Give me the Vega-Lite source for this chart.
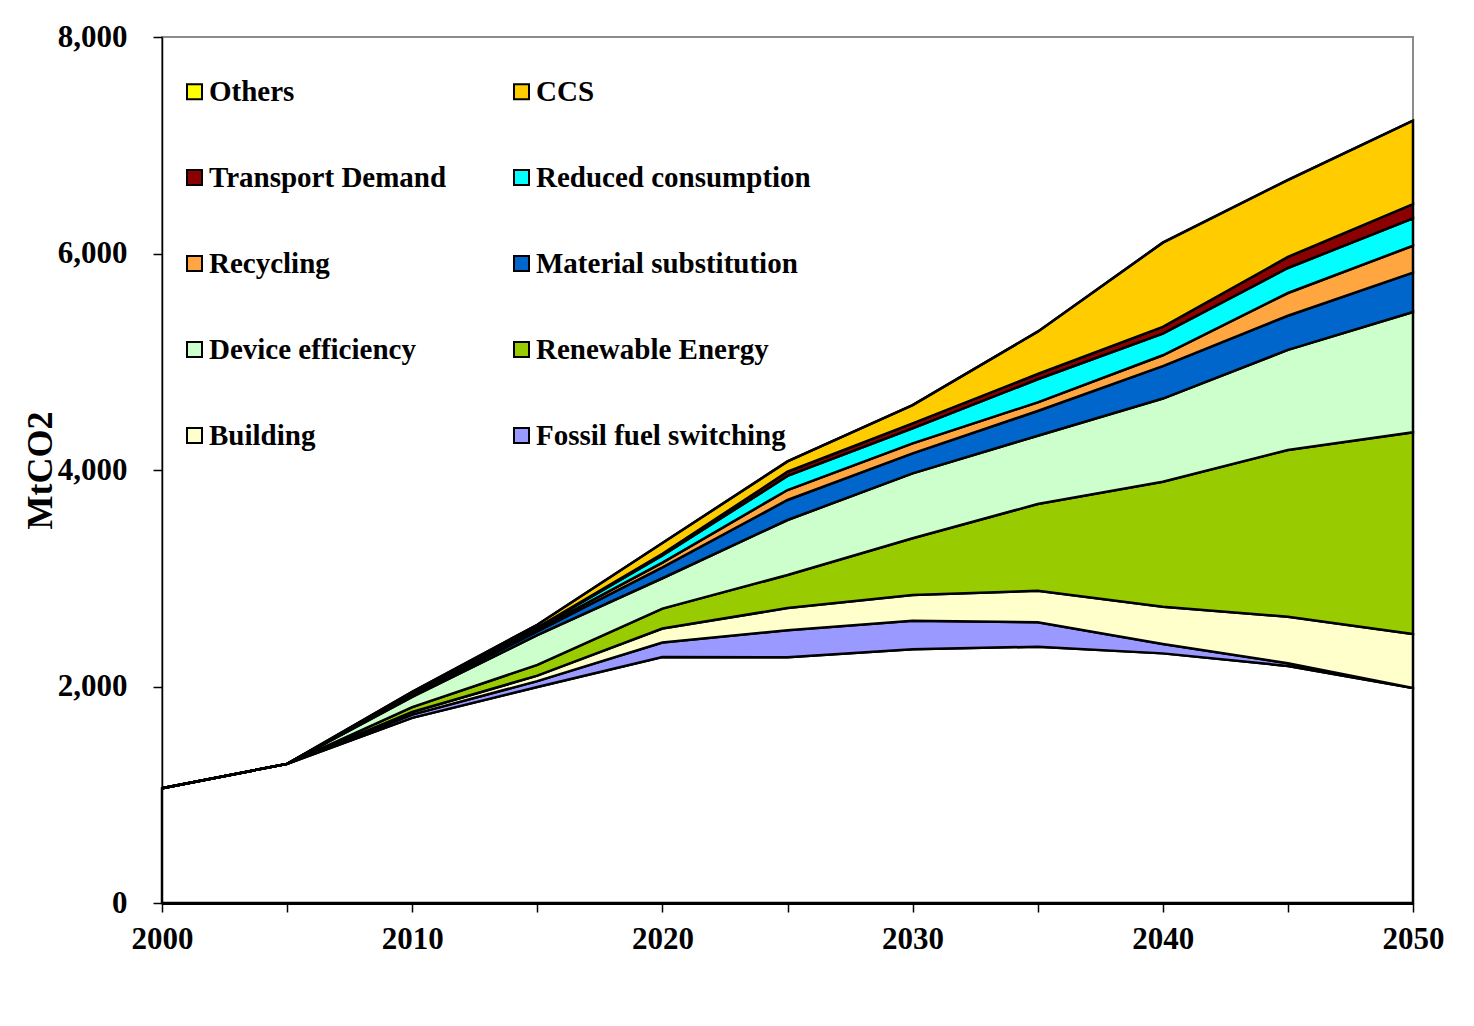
{
  "$schema": "https://vega.github.io/schema/vega-lite/v6.json",
  "width": 1251,
  "height": 866,
  "autosize": {"type": "none"},
  "padding": {"left": 162, "top": 37, "right": 61, "bottom": 123},
  "background": "white",
  "config": {
    "view": {"stroke": "#8c8c8c", "strokeWidth": 2},
    "font": "Liberation Serif"
  },
  "data": {
    "values": [
      {"year": 2000, "series": "Base", "order": 0, "value": 1060},
      {"year": 2000, "series": "Fossil fuel switching", "order": 1, "value": 0},
      {"year": 2000, "series": "Building", "order": 2, "value": 0},
      {"year": 2000, "series": "Renewable Energy", "order": 3, "value": 0},
      {"year": 2000, "series": "Device efficiency", "order": 4, "value": 0},
      {"year": 2000, "series": "Material substitution", "order": 5, "value": 0},
      {"year": 2000, "series": "Recycling", "order": 6, "value": 0},
      {"year": 2000, "series": "Reduced consumption", "order": 7, "value": 0},
      {"year": 2000, "series": "Transport Demand", "order": 8, "value": 0},
      {"year": 2000, "series": "CCS", "order": 9, "value": 0},
      {"year": 2000, "series": "Others", "order": 10, "value": 0},

      {"year": 2005, "series": "Base", "order": 0, "value": 1285},
      {"year": 2005, "series": "Fossil fuel switching", "order": 1, "value": 0},
      {"year": 2005, "series": "Building", "order": 2, "value": 0},
      {"year": 2005, "series": "Renewable Energy", "order": 3, "value": 0},
      {"year": 2005, "series": "Device efficiency", "order": 4, "value": 0},
      {"year": 2005, "series": "Material substitution", "order": 5, "value": 0},
      {"year": 2005, "series": "Recycling", "order": 6, "value": 0},
      {"year": 2005, "series": "Reduced consumption", "order": 7, "value": 0},
      {"year": 2005, "series": "Transport Demand", "order": 8, "value": 0},
      {"year": 2005, "series": "CCS", "order": 9, "value": 0},
      {"year": 2005, "series": "Others", "order": 10, "value": 0},

      {"year": 2010, "series": "Base", "order": 0, "value": 1710},
      {"year": 2010, "series": "Fossil fuel switching", "order": 1, "value": 30},
      {"year": 2010, "series": "Building", "order": 2, "value": 25},
      {"year": 2010, "series": "Renewable Energy", "order": 3, "value": 45},
      {"year": 2010, "series": "Device efficiency", "order": 4, "value": 95},
      {"year": 2010, "series": "Material substitution", "order": 5, "value": 12},
      {"year": 2010, "series": "Recycling", "order": 6, "value": 5},
      {"year": 2010, "series": "Reduced consumption", "order": 7, "value": 6},
      {"year": 2010, "series": "Transport Demand", "order": 8, "value": 2},
      {"year": 2010, "series": "CCS", "order": 9, "value": 20},
      {"year": 2010, "series": "Others", "order": 10, "value": 0},

      {"year": 2015, "series": "Base", "order": 0, "value": 1995},
      {"year": 2015, "series": "Fossil fuel switching", "order": 1, "value": 55},
      {"year": 2015, "series": "Building", "order": 2, "value": 50},
      {"year": 2015, "series": "Renewable Energy", "order": 3, "value": 100},
      {"year": 2015, "series": "Device efficiency", "order": 4, "value": 275},
      {"year": 2015, "series": "Material substitution", "order": 5, "value": 35},
      {"year": 2015, "series": "Recycling", "order": 6, "value": 15},
      {"year": 2015, "series": "Reduced consumption", "order": 7, "value": 15},
      {"year": 2015, "series": "Transport Demand", "order": 8, "value": 5},
      {"year": 2015, "series": "CCS", "order": 9, "value": 25},
      {"year": 2015, "series": "Others", "order": 10, "value": 0},

      {"year": 2020, "series": "Base", "order": 0, "value": 2272},
      {"year": 2020, "series": "Fossil fuel switching", "order": 1, "value": 135},
      {"year": 2020, "series": "Building", "order": 2, "value": 128},
      {"year": 2020, "series": "Renewable Energy", "order": 3, "value": 185},
      {"year": 2020, "series": "Device efficiency", "order": 4, "value": 280},
      {"year": 2020, "series": "Material substitution", "order": 5, "value": 100},
      {"year": 2020, "series": "Recycling", "order": 6, "value": 45},
      {"year": 2020, "series": "Reduced consumption", "order": 7, "value": 65},
      {"year": 2020, "series": "Transport Demand", "order": 8, "value": 15},
      {"year": 2020, "series": "CCS", "order": 9, "value": 100},
      {"year": 2020, "series": "Others", "order": 10, "value": 0},

      {"year": 2025, "series": "Base", "order": 0, "value": 2270},
      {"year": 2025, "series": "Fossil fuel switching", "order": 1, "value": 250},
      {"year": 2025, "series": "Building", "order": 2, "value": 205},
      {"year": 2025, "series": "Renewable Energy", "order": 3, "value": 305},
      {"year": 2025, "series": "Device efficiency", "order": 4, "value": 508},
      {"year": 2025, "series": "Material substitution", "order": 5, "value": 185},
      {"year": 2025, "series": "Recycling", "order": 6, "value": 92},
      {"year": 2025, "series": "Reduced consumption", "order": 7, "value": 130},
      {"year": 2025, "series": "Transport Demand", "order": 8, "value": 39},
      {"year": 2025, "series": "CCS", "order": 9, "value": 96},
      {"year": 2025, "series": "Others", "order": 10, "value": 0},

      {"year": 2030, "series": "Base", "order": 0, "value": 2343},
      {"year": 2030, "series": "Fossil fuel switching", "order": 1, "value": 265},
      {"year": 2030, "series": "Building", "order": 2, "value": 237},
      {"year": 2030, "series": "Renewable Energy", "order": 3, "value": 524},
      {"year": 2030, "series": "Device efficiency", "order": 4, "value": 600},
      {"year": 2030, "series": "Material substitution", "order": 5, "value": 185},
      {"year": 2030, "series": "Recycling", "order": 6, "value": 92},
      {"year": 2030, "series": "Reduced consumption", "order": 7, "value": 139},
      {"year": 2030, "series": "Transport Demand", "order": 8, "value": 46},
      {"year": 2030, "series": "CCS", "order": 9, "value": 169},
      {"year": 2030, "series": "Others", "order": 10, "value": 0},

      {"year": 2035, "series": "Base", "order": 0, "value": 2368},
      {"year": 2035, "series": "Fossil fuel switching", "order": 1, "value": 225},
      {"year": 2035, "series": "Building", "order": 2, "value": 292},
      {"year": 2035, "series": "Renewable Energy", "order": 3, "value": 801},
      {"year": 2035, "series": "Device efficiency", "order": 4, "value": 631},
      {"year": 2035, "series": "Material substitution", "order": 5, "value": 228},
      {"year": 2035, "series": "Recycling", "order": 6, "value": 80},
      {"year": 2035, "series": "Reduced consumption", "order": 7, "value": 213},
      {"year": 2035, "series": "Transport Demand", "order": 8, "value": 49},
      {"year": 2035, "series": "CCS", "order": 9, "value": 391},
      {"year": 2035, "series": "Others", "order": 10, "value": 0},

      {"year": 2040, "series": "Base", "order": 0, "value": 2306},
      {"year": 2040, "series": "Fossil fuel switching", "order": 1, "value": 87},
      {"year": 2040, "series": "Building", "order": 2, "value": 344},
      {"year": 2040, "series": "Renewable Energy", "order": 3, "value": 1155},
      {"year": 2040, "series": "Device efficiency", "order": 4, "value": 768},
      {"year": 2040, "series": "Material substitution", "order": 5, "value": 300},
      {"year": 2040, "series": "Recycling", "order": 6, "value": 100},
      {"year": 2040, "series": "Reduced consumption", "order": 7, "value": 200},
      {"year": 2040, "series": "Transport Demand", "order": 8, "value": 62},
      {"year": 2040, "series": "CCS", "order": 9, "value": 778},
      {"year": 2040, "series": "Others", "order": 10, "value": 0},

      {"year": 2045, "series": "Base", "order": 0, "value": 2190},
      {"year": 2045, "series": "Fossil fuel switching", "order": 1, "value": 25},
      {"year": 2045, "series": "Building", "order": 2, "value": 430},
      {"year": 2045, "series": "Renewable Energy", "order": 3, "value": 1540},
      {"year": 2045, "series": "Device efficiency", "order": 4, "value": 925},
      {"year": 2045, "series": "Material substitution", "order": 5, "value": 315},
      {"year": 2045, "series": "Recycling", "order": 6, "value": 210},
      {"year": 2045, "series": "Reduced consumption", "order": 7, "value": 231},
      {"year": 2045, "series": "Transport Demand", "order": 8, "value": 102},
      {"year": 2045, "series": "CCS", "order": 9, "value": 711},
      {"year": 2045, "series": "Others", "order": 10, "value": 0},

      {"year": 2050, "series": "Base", "order": 0, "value": 1986},
      {"year": 2050, "series": "Fossil fuel switching", "order": 1, "value": 0},
      {"year": 2050, "series": "Building", "order": 2, "value": 499},
      {"year": 2050, "series": "Renewable Energy", "order": 3, "value": 1863},
      {"year": 2050, "series": "Device efficiency", "order": 4, "value": 1112},
      {"year": 2050, "series": "Material substitution", "order": 5, "value": 363},
      {"year": 2050, "series": "Recycling", "order": 6, "value": 249},
      {"year": 2050, "series": "Reduced consumption", "order": 7, "value": 253},
      {"year": 2050, "series": "Transport Demand", "order": 8, "value": 132},
      {"year": 2050, "series": "CCS", "order": 9, "value": 770},
      {"year": 2050, "series": "Others", "order": 10, "value": 0}
    ]
  },
  "mark": {"type": "area", "stroke": "black", "strokeWidth": 2.5, "interpolate": "linear"},
  "encoding": {
    "x": {
      "field": "year",
      "type": "quantitative",
      "scale": {"domain": [2000, 2050], "nice": false, "zero": false},
      "axis": {
        "title": null,
        "grid": false,
        "values": [2000, 2005, 2010, 2015, 2020, 2025, 2030, 2035, 2040, 2045, 2050],
        "labelExpr": "datum.value % 10 === 0 ? datum.value : ''",
        "labelFont": "Liberation Serif",
        "labelFontWeight": "bold",
        "labelFontSize": 31,
        "labelColor": "black",
        "labelPadding": 12,
        "labelFlush": false,
        "labelOverlap": false,
        "tickSize": 9,
        "tickColor": "black",
        "tickWidth": 1.5,
        "domainColor": "black",
        "domainWidth": 3
      }
    },
    "y": {
      "field": "value",
      "type": "quantitative",
      "stack": "zero",
      "scale": {"domain": [0, 8000], "nice": false},
      "axis": {
        "title": "MtCO2",
        "titleFont": "Liberation Serif",
        "titleFontWeight": "bold",
        "titleFontSize": 36,
        "titleColor": "black",
        "titleX": -122,
        "titleY": 433,
        "titleAngle": -90,
        "titleAlign": "center",
        "titleBaseline": "middle",
        "grid": false,
        "values": [0, 2000, 4000, 6000, 8000],
        "format": ",.0f",
        "labelFont": "Liberation Serif",
        "labelFontWeight": "bold",
        "labelFontSize": 31,
        "labelColor": "black",
        "labelPadding": 26,
        "tickSize": 9,
        "tickColor": "black",
        "tickWidth": 1.5,
        "domainColor": "black",
        "domainWidth": 1.5
      }
    },
    "order": {"field": "order", "type": "quantitative", "sort": "ascending"},
    "color": {
      "field": "series",
      "type": "nominal",
      "scale": {
        "domain": ["Others", "CCS", "Transport Demand", "Reduced consumption", "Recycling", "Material substitution", "Device efficiency", "Renewable Energy", "Building", "Fossil fuel switching", "Base"],
        "range": ["#FFFF00", "#FFCC00", "#8B0000", "#00FFFF", "#FFA640", "#0066CC", "#CCFFCC", "#99CC00", "#FFFFCC", "#9999FF", "#FFFFFF"]
      },
      "legend": {
        "title": null,
        "orient": "none",
        "direction": "horizontal",
        "legendX": 18,
        "legendY": 40,
        "columns": 2,
        "values": ["Others", "CCS", "Transport Demand", "Reduced consumption", "Recycling", "Material substitution", "Device efficiency", "Renewable Energy", "Building", "Fossil fuel switching"],
        "symbolType": "square",
        "symbolSize": 225,
        "symbolStrokeColor": "black",
        "symbolStrokeWidth": 2,
        "symbolOpacity": 1,
        "labelFont": "Liberation Serif",
        "labelFontSize": 29,
        "labelFontWeight": "bold",
        "labelColor": "black",
        "labelOffset": 0,
        "labelLimit": 500,
        "rowPadding": 56,
        "columnPadding": 60
      }
    }
  }
}
